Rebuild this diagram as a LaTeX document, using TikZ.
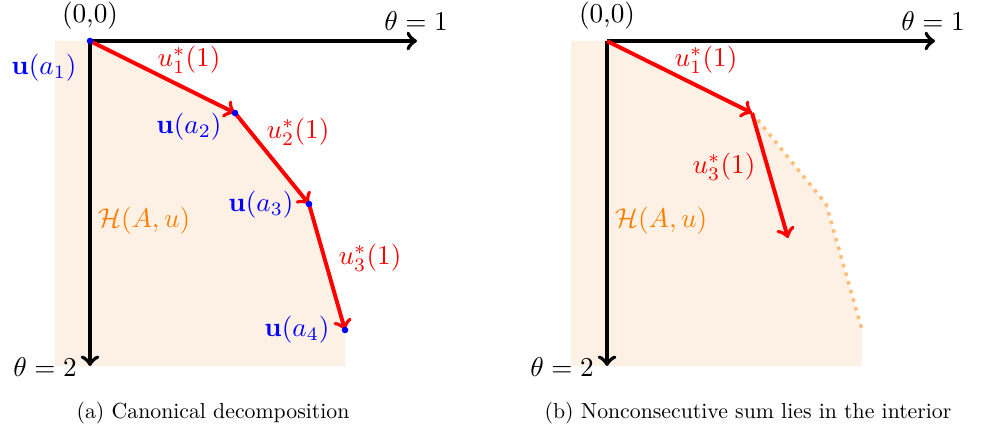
\documentclass[tikz,border=0pt]{standalone}
\usepackage{amsmath}
\usepackage{graphicx}
\definecolor{hfill}{RGB}{253,241,229}
\definecolor{hdot}{RGB}{255,190,120}
\definecolor{horange}{RGB}{255,128,0}
\begin{document}
\begin{tikzpicture}[x=0.3676pt,y=-0.3676pt,
  axis/.style={line width=1.45pt,->},
  vec/.style={line width=1.45pt,red,->},
  ptdot/.style={blue},
  lbl/.style={inner sep=0pt},
  captext/.style={inner sep=0pt}]
\useasboundingbox (0,0) rectangle (982,434);
% ---------- panel (a) ----------
\coordinate (a1) at (90,41);
\coordinate (a2) at (235,113);
\coordinate (a3) at (309,204);
\coordinate (a4) at (345,330);
\coordinate (ax1) at (417,41);
\coordinate (ax2) at (90,366);
\fill[hfill] (55,41) -- (a1) -- (a2) -- (a3) -- (a4) -- (345,366) -- (55,366) -- cycle;
\draw[axis] (a1) -- (ax1);
\draw[axis] (a1) -- (ax2);
\draw[vec] (a1) -- (a2);
\draw[vec] (a2) -- (a3);
\draw[vec] (a3) -- (a4);
\foreach \p in {a1,a2,a3,a4} \fill[ptdot] (\p) circle[radius=1.2pt];
\node[lbl] (o1) at (90,16) {(0,0)};
\node[lbl] (t1a) at (416,21) {$\theta=1$};
\node[lbl] (t2a) at (45,367) {$\theta=2$};
\node[lbl,blue] (la1) at (44,68) {$\mathbf{u}(a_1)$};
\node[lbl,blue] (la2) at (189,127) {$\mathbf{u}(a_2)$};
\node[lbl,blue] (la3) at (261,205) {$\mathbf{u}(a_3)$};
\node[lbl,blue] (la4) at (297,330) {$\mathbf{u}(a_4)$};
\node[lbl,red] (lu1a) at (189,60) {$u_1^*(1)$};
\node[lbl,red] (lu2a) at (298,132) {$u_2^*(1)$};
\node[lbl,red] (lu3a) at (370,258) {$u_3^*(1)$};
\node[lbl,horange] (ha) at (144,221) {$\mathcal{H}(A,u)$};
\node[captext] (capa) at (213,413) {\scalebox{0.8}{(a) Canonical decomposition}};
% ---------- panel (b) ----------
\coordinate (b1) at (607,41);
\coordinate (b2) at (752,113);
\coordinate (b3) at (826,204);
\coordinate (b4) at (862,330);
\coordinate (b5) at (788,238);
\coordinate (bx1) at (935,41);
\coordinate (bx2) at (607,366);
\fill[hfill] (571,41) -- (b1) -- (b2) -- (b3) -- (b4) -- (862,366) -- (571,366) -- cycle;
\draw[hdot,line width=1.3pt,dotted] (b2) -- (b3) -- (b4);
\draw[axis] (b1) -- (bx1);
\draw[axis] (b1) -- (bx2);
\draw[vec] (b1) -- (b2);
\draw[vec] (b2) -- (b5);
\node[lbl] (o2) at (607,16) {(0,0)};
\node[lbl] (t1b) at (933,21) {$\theta=1$};
\node[lbl] (t2b) at (562,367) {$\theta=2$};
\node[lbl,red] (lu1b) at (706,60) {$u_1^*(1)$};
\node[lbl,red] (lu3b) at (724,167) {$u_3^*(1)$};
\node[lbl,horange] (hb) at (661,221) {$\mathcal{H}(A,u)$};
\node[captext] (capb) at (748,413) {\scalebox{0.8}{(b) Nonconsecutive sum lies in the interior}};
\end{tikzpicture}
\end{document}
